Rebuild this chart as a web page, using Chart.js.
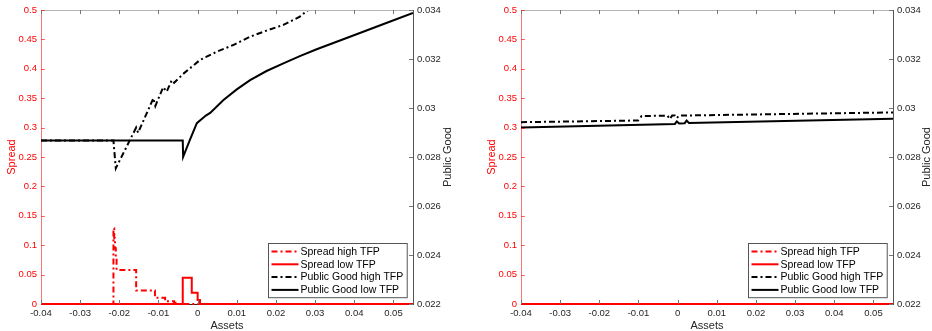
<!DOCTYPE html>
<html lang="en">
<head>
<meta charset="UTF-8">
<title>Spread and Public Good</title>
<script src="https://cdn.jsdelivr.net/npm/chart.js"></script>
<style>
  html, body { margin: 0; padding: 0; background: #fff; }
  .panel { position: absolute; top: 0; width: 466px; height: 331px; }
  #left { left: 0; }
  #right { left: 466px; }
</style>
</head>
<body>
<div class="panel" id="left"><canvas id="leftChart" width="466" height="331"></canvas></div>
<div class="panel" id="right"><canvas id="rightChart" width="466" height="331"></canvas></div>
<script>
// axis ticks
const assetTicks = [-0.04, -0.03, -0.02, -0.01, 0, 0.01, 0.02, 0.03, 0.04, 0.05];
const spreadTicks = [0, 0.05, 0.1, 0.15, 0.2, 0.25, 0.3, 0.35, 0.4, 0.45, 0.5];
const goodTicks = [0.022, 0.024, 0.026, 0.028, 0.03, 0.032, 0.034];
const labels = ['Spread high TFP', 'Spread low TFP', 'Public Good high TFP', 'Public Good low TFP'];

// left panel
const leftSpreadHighX = [-0.04, -0.0215, -0.0213, -0.0211, -0.0209, -0.0207, -0.0157, -0.0109, -0.0083, -0.0060, -0.0053, 0.055];
const leftSpreadHighY = [0, 0.129, 0.112, 0.095, 0.078, 0.058, 0.023, 0.0105, 0.0045, 0.002, 0, 0];
const leftSpreadLowX = [-0.04, -0.0038, -0.0015, 0.0000, 0.0006, 0.055];
const leftSpreadLowY = [0, 0.0448, 0.0193, 0.0068, 0, 0];
const leftGoodHighX = [-0.04, -0.0215, -0.0209, -0.0173, -0.0157, -0.0152, -0.0113, -0.0108, -0.0088, -0.0079,
  -0.0066, -0.0060, -0.0037, 0.0006, 0.0049, 0.0091, 0.0134, 0.0176, 0.0219, 0.0261, 0.0279, 0.034];
const leftGoodHighY = [0.02867, 0.02867, 0.02754, 0.02869, 0.02920, 0.02899, 0.03040, 0.03008, 0.03085, 0.03067,
  0.03114, 0.03103, 0.03139, 0.03196, 0.03230, 0.03257, 0.03291, 0.03316, 0.03339, 0.03373, 0.03397, 0.03440];
const leftGoodLowX = [-0.04, -0.0038, -0.0037, -0.0020, -0.0002, 0.0021, 0.0032, 0.0066, 0.0100, 0.0134, 0.0176,
  0.0219, 0.0261, 0.0304, 0.0389, 0.0470, 0.055];
const leftGoodLowY = [0.02867, 0.02867, 0.02801, 0.02869, 0.02938, 0.02969, 0.02980, 0.03033, 0.03076, 0.03114, 0.03151,
  0.03182, 0.03212, 0.03240, 0.03291, 0.03340, 0.03388];

// right panel
const rightSpreadHighX = [-0.04, 0.055];
const rightSpreadHighY = [0, 0];
const rightSpreadLowX = [-0.04, 0.055];
const rightSpreadLowY = [0, 0];
const rightGoodHighX = [-0.04, -0.0101, -0.0092, -0.0026, -0.0020, -0.0014, -0.0007, -0.0002, 0.0004, 0.055];
const rightGoodHighY = [0.02942, 0.02949, 0.02967, 0.02969, 0.02955, 0.02969, 0.02969, 0.02959, 0.02969, 0.02982];
const rightGoodLowX = [-0.04, -0.0007, -0.0002, 0.0004, 0.0018, 0.0023, 0.0029, 0.055];
const rightGoodLowY = [0.02920, 0.02935, 0.02945, 0.02937, 0.02938, 0.02949, 0.02939, 0.02956];

const RED = '#ff0000';
const INK = '#262626';
const DASHDOT = [6, 3, 2, 3];
const FONT = '"Liberation Sans", Arial, Helvetica, sans-serif';
Chart.defaults.font.family = FONT;

function pts(xs, ys) { return xs.map((x, i) => ({ x: x, y: ys[i] })); }
function fmt(v) { return String(parseFloat(Number(v).toFixed(4))); }
function fixTicks(list) { return s => { s.ticks = list.map(v => ({ value: v })); }; }

// inward ticks, top frame line, right axis title and the boxed legend inside the plot
const matlabFrame = {
  id: 'matlabFrame',
  afterDraw(chart, args, opts) {
    const ctx = chart.ctx, a = chart.chartArea, sc = chart.scales;
    const L = 4;
    ctx.save();
    ctx.lineWidth = 1;
    ctx.strokeStyle = '#b5b5b5';
    ctx.beginPath(); ctx.moveTo(a.left, a.top + 0.5); ctx.lineTo(a.right, a.top + 0.5); ctx.stroke();
    ctx.strokeStyle = '#777';
    sc.x.ticks.forEach(t => {
      const px = Math.round(sc.x.getPixelForValue(t.value)) + 0.5;
      ctx.beginPath(); ctx.moveTo(px, a.bottom); ctx.lineTo(px, a.bottom - L);
      ctx.moveTo(px, a.top); ctx.lineTo(px, a.top + L); ctx.stroke();
    });
    ctx.strokeStyle = 'rgba(255,0,0,0.6)';
    sc.y.ticks.forEach(t => {
      const py = Math.round(sc.y.getPixelForValue(t.value)) + 0.5;
      ctx.beginPath(); ctx.moveTo(a.left, py); ctx.lineTo(a.left + L, py); ctx.stroke();
    });
    ctx.strokeStyle = '#777';
    sc.y1.ticks.forEach(t => {
      const py = Math.round(sc.y1.getPixelForValue(t.value)) + 0.5;
      ctx.beginPath(); ctx.moveTo(a.right, py); ctx.lineTo(a.right - L, py); ctx.stroke();
    });

    // right axis title, reading bottom to top like the reference
    ctx.save();
    ctx.translate(chart.width - opts.titleOffset, (a.top + a.bottom) / 2);
    ctx.rotate(-Math.PI / 2);
    ctx.font = '11px ' + FONT;
    ctx.fillStyle = INK;
    ctx.textAlign = 'center';
    ctx.textBaseline = 'middle';
    ctx.fillText('Public Good', 0, 0);
    ctx.restore();

    // legend
    ctx.font = '10.5px ' + FONT;
    const sets = chart.data.datasets;
    const tw = Math.max(...sets.map(d => ctx.measureText(d.label).width));
    const rowH = 12.8, w = 32 + tw + 4, h = rowH * sets.length + 3;
    const bx = Math.round(a.right - 6 - w) + 0.5, by = Math.round(a.bottom - 7 - h) + 0.5;
    ctx.fillStyle = '#fff';
    ctx.fillRect(bx, by, w, h);
    ctx.strokeStyle = '#555';
    ctx.strokeRect(bx, by, w, h);
    sets.forEach((d, i) => {
      const cy = by + 8 + i * rowH;
      ctx.strokeStyle = d.borderColor;
      ctx.lineWidth = 2;
      ctx.setLineDash(d.borderDash || []);
      ctx.beginPath(); ctx.moveTo(bx + 3, cy); ctx.lineTo(bx + 30, cy); ctx.stroke();
      ctx.setLineDash([]);
      ctx.fillStyle = '#000';
      ctx.textBaseline = 'middle';
      ctx.fillText(d.label, bx + 32, cy + 0.5);
    });
    ctx.restore();
  }
};

function makePanel(id, series, dims) {
  const tickFont = { size: 9.5 };
  const titleFont = { size: 11, lineHeight: 1 };
  new Chart(document.getElementById(id), {
    type: 'line',
    data: {
      datasets: [
        { label: labels[0], data: pts(series[0], series[1]), yAxisID: 'y', borderColor: RED, borderDash: DASHDOT, stepped: true, clip: false },
        { label: labels[1], data: pts(series[2], series[3]), yAxisID: 'y', borderColor: RED, stepped: true, clip: false },
        { label: labels[2], data: pts(series[4], series[5]), yAxisID: 'y1', borderColor: '#000', borderDash: DASHDOT },
        { label: labels[3], data: pts(series[6], series[7]), yAxisID: 'y1', borderColor: '#000' }
      ]
    },
    options: {
      responsive: false,
      animation: false,
      devicePixelRatio: 1,
      parsing: false,
      elements: { point: { radius: 0 }, line: { borderWidth: 2, tension: 0, fill: false } },
      layout: { padding: { top: 10, left: 0, right: 0, bottom: 0 } },
      plugins: { legend: { display: false }, tooltip: { enabled: false }, matlabFrame: { titleOffset: dims.y1t } },
      scales: {
        x: {
          type: 'linear', min: -0.04, max: 0.055,
          afterBuildTicks: fixTicks(assetTicks),
          afterFit: s => { s.height = 27; },
          grid: { display: false, drawTicks: false },
          border: { display: true, color: INK },
          ticks: { padding: 4, color: INK, font: tickFont, maxRotation: 0, callback: fmt },
          title: { display: true, text: 'Assets', color: INK, font: titleFont, padding: 0 }
        },
        y: {
          type: 'linear', position: 'left', min: 0, max: 0.5,
          afterBuildTicks: fixTicks(spreadTicks),
          afterFit: s => { s.width = dims.yw; },
          grid: { display: false, drawTicks: false },
          border: { display: true, color: 'rgba(255,0,0,0.55)' },
          ticks: { padding: 4, color: RED, font: tickFont, callback: fmt },
          title: { display: true, text: 'Spread', color: RED, font: titleFont, padding: { top: dims.yt } }
        },
        y1: {
          type: 'linear', position: 'right', min: 0.022, max: 0.034,
          afterBuildTicks: fixTicks(goodTicks),
          afterFit: s => { s.width = dims.y1w; },
          grid: { display: false, drawTicks: false },
          border: { display: true, color: '#555' },
          ticks: { padding: 4, color: INK, font: tickFont, callback: fmt }
        }
      }
    },
    plugins: [matlabFrame]
  });
}

makePanel('leftChart',
  [leftSpreadHighX, leftSpreadHighY, leftSpreadLowX, leftSpreadLowY, leftGoodHighX, leftGoodHighY, leftGoodLowX, leftGoodLowY],
  { yw: 41, y1w: 53, yt: 6, y1t: 18 });
makePanel('rightChart',
  [rightSpreadHighX, rightSpreadHighY, rightSpreadLowX, rightSpreadLowY, rightGoodHighX, rightGoodHighY, rightGoodLowX, rightGoodLowY],
  { yw: 55, y1w: 39, yt: 20.5, y1t: 5 });
</script>
</body>
</html>
